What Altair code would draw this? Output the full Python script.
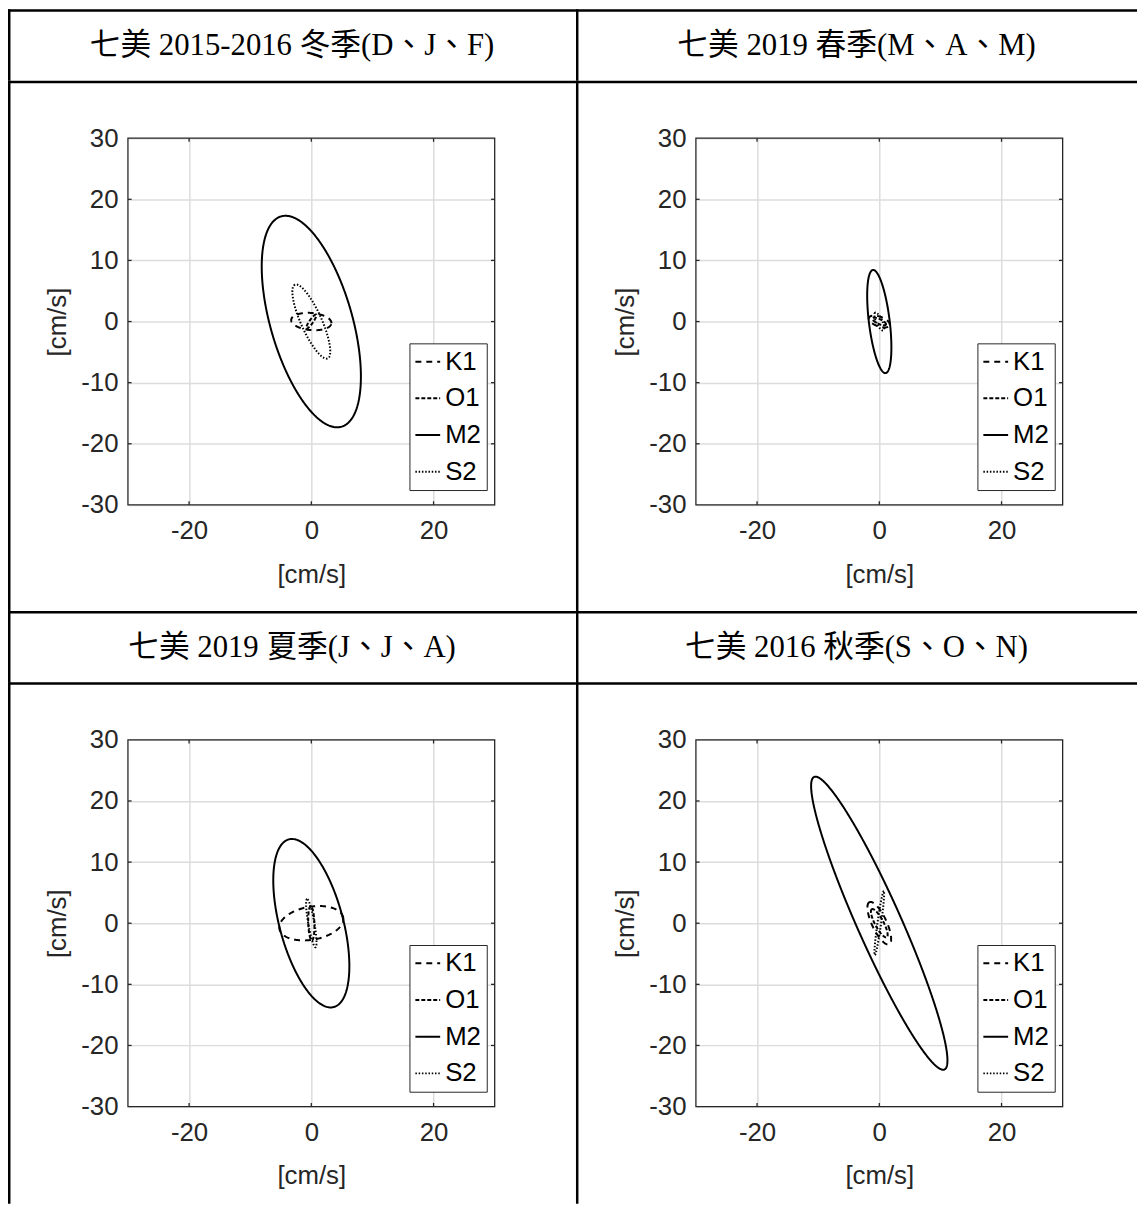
import altair as alt
import numpy as np
import pandas as pd

# ---------------- data ----------------
titles = [
    "七美 2015-2016 冬季(D、J、F)",
    "七美 2019 春季(M、A、M)",
    "七美 2019 夏季(J、J、A)",
    "七美 2016 秋季(S、O、N)",
]
constituents = ["K1", "O1", "M2", "S2"]

# semi-major axis, semi-minor axis [cm/s], inclination [deg, ccw from east]
major_winter = [3.3, 1.4, 17.9, 6.6]
minor_winter = [1.4, 0.3, 6.7, 1.7]
incl_winter = [-5, 55, 106, 114]

major_spring = [1.8, 1.2, 8.5, 1.6]
minor_spring = [0.8, 0.4, 1.7, 0.5]
incl_spring = [-20, -25, 97, 115]

major_summer = [5.3, 2.8, 14.2, 4.0]
minor_summer = [2.7, 0.5, 5.2, 0.5]
incl_summer = [10, 92, 105, 100]

major_autumn = [3.8, 2.6, 26.2, 5.3]
minor_autumn = [1.2, 0.7, 3.6, 0.3]
incl_autumn = [115, 118, 114, 82]

x_ticks = [-20, 0, 20]
y_ticks = [-30, -20, -10, 0, 10, 20, 30]
axis_lim = [-30, 30]
dash_styles = [[6, 5], [4, 2], [1, 0], [1.5, 1.8]]

# ---------------- layout constants ----------------
PLOT = 370
ROW_T = 72
PLOT_TOP = 58
BW = 2.5
TICK_LEN = 0.6   # inward tick length in data units (MATLAB style)
AXIS_COLOR = "#262626"
SANS = "Liberation Sans, Arial, Helvetica, sans-serif"
SERIF = "Liberation Serif, 'Times New Roman', 'Noto Sans CJK TC', serif"


def ellipse_frame(major, minor, incl):
    t = np.linspace(0, 2 * np.pi, 241)
    parts = []
    for c, a, b, th in zip(constituents, major, minor, incl):
        th = np.deg2rad(th)
        x = a * np.cos(t) * np.cos(th) - b * np.sin(t) * np.sin(th)
        y = a * np.cos(t) * np.sin(th) + b * np.sin(t) * np.cos(th)
        parts.append(pd.DataFrame({"u": x, "v": y, "comp": c, "i": np.arange(len(t))}))
    return pd.concat(parts, ignore_index=True)


def tick_frame():
    lo, hi = axis_lim
    rows = []
    for v in x_ticks:
        rows.append({"x1": v, "x2": v, "y1": lo, "y2": lo + TICK_LEN})
        rows.append({"x1": v, "x2": v, "y1": hi, "y2": hi - TICK_LEN})
    for v in y_ticks[1:-1]:
        rows.append({"x1": lo, "x2": lo + TICK_LEN, "y1": v, "y2": v})
        rows.append({"x1": hi, "x2": hi - TICK_LEN, "y1": v, "y2": v})
    return pd.DataFrame(rows)


one = alt.Data(values=[{}])


def borders(left, width, top, height):
    # invisible cell box (defines the table cell size) + top and left border lines
    bg = alt.Chart(one).mark_rect(opacity=0).encode(
        x=alt.value(-left), x2=alt.value(width - left),
        y=alt.value(top), y2=alt.value(top + height))
    top_line = alt.Chart(one).mark_rect(color="black").encode(
        x=alt.value(-left), x2=alt.value(width - left),
        y=alt.value(top), y2=alt.value(top + BW))
    left_line = alt.Chart(one).mark_rect(color="black").encode(
        x=alt.value(-left), x2=alt.value(-left + BW),
        y=alt.value(top), y2=alt.value(top + height))
    return [bg, top_line, left_line]


def title_cell(text, left, width):
    txt = alt.Chart(alt.Data(values=[{"t": text}])).mark_text(
        font=SERIF, fontSize=31, color="black", align="center", baseline="middle"
    ).encode(x=alt.value(width / 2 - left), y=alt.value(ROW_T / 2 + 1), text="t:N")
    return alt.layer(*borders(left, width, 0, ROW_T), txt).properties(
        width=PLOT, height=ROW_T)


def plot_cell(df, left, width, height):
    xs = alt.Scale(domain=axis_lim, nice=False, zero=False)
    ys = alt.Scale(domain=axis_lim, nice=False, zero=False)
    lines = alt.Chart(df).mark_line(color="black", strokeWidth=2).encode(
        x=alt.X("u:Q", scale=xs,
                axis=alt.Axis(values=x_ticks, title="[cm/s]", labelPadding=13,
                              titlePadding=18, labelExpr="'' + datum.value")),
        y=alt.Y("v:Q", scale=ys,
                axis=alt.Axis(values=y_ticks, title="[cm/s]", labelPadding=10,
                              titlePadding=10, labelExpr="'' + datum.value")),
        strokeDash=alt.StrokeDash(
            "comp:N",
            scale=alt.Scale(domain=constituents, range=dash_styles),
            legend=alt.Legend(title=None, orient="none", legendX=284, legendY=207),
        ),
        order=alt.Order("i:Q"),
    )
    ticks = alt.Chart(tick_frame()).mark_rule(color=AXIS_COLOR, strokeWidth=1.3).encode(
        x="x1:Q", x2="x2:Q", y="y1:Q", y2="y2:Q")
    frame = alt.Chart(one).mark_rect(filled=False, stroke=AXIS_COLOR, strokeWidth=1.3).encode(
        x=alt.datum(axis_lim[0]), x2=alt.datum(axis_lim[1]),
        y=alt.datum(axis_lim[0]), y2=alt.datum(axis_lim[1]))
    return alt.layer(*borders(left, width, -PLOT_TOP, height), lines, ticks, frame).properties(
        width=PLOT, height=PLOT)


data = [
    ellipse_frame(major_winter, minor_winter, incl_winter),
    ellipse_frame(major_spring, minor_spring, incl_spring),
    ellipse_frame(major_summer, minor_summer, incl_summer),
    ellipse_frame(major_autumn, minor_autumn, incl_autumn),
]

L1, W1 = 121, 573
L2, W2 = 121, 566

cells = [
    title_cell(titles[0], L1, W1), title_cell(titles[1], L2, W2),
    plot_cell(data[0], L1, W1, 535), plot_cell(data[1], L2, W2, 535),
    title_cell(titles[2], L1, W1), title_cell(titles[3], L2, W2),
    plot_cell(data[2], L1, W1, 526), plot_cell(data[3], L2, W2, 526),
]

chart = alt.concat(*cells, columns=2, spacing=0, align="each", bounds="full").resolve_scale(
    strokeDash="independent"
).resolve_legend(strokeDash="independent").properties(
    padding={"top": -4, "left": 0, "right": 0, "bottom": 0}, background="white"
).configure_view(
    stroke="transparent", strokeWidth=0, strokeOpacity=0
).configure_axis(
    grid=True, gridColor="#dcdcdc", gridWidth=1.5, domain=False, ticks=False, tickSize=0,
    labelFont=SANS, labelFontSize=26, labelColor=AXIS_COLOR,
    titleFont=SANS, titleFontSize=26, titleFontWeight="normal", titleColor=AXIS_COLOR,
).configure_legend(
    symbolType="stroke", symbolSize=625, symbolStrokeWidth=2, symbolStrokeColor="black",
    labelFont=SANS, labelFontSize=26, labelColor="black", labelOffset=4,
    rowPadding=10, padding=5, strokeColor=AXIS_COLOR, fillColor="white", cornerRadius=0,
)

chart.save("out.html", embed_options={"renderer": "svg", "actions": False})
